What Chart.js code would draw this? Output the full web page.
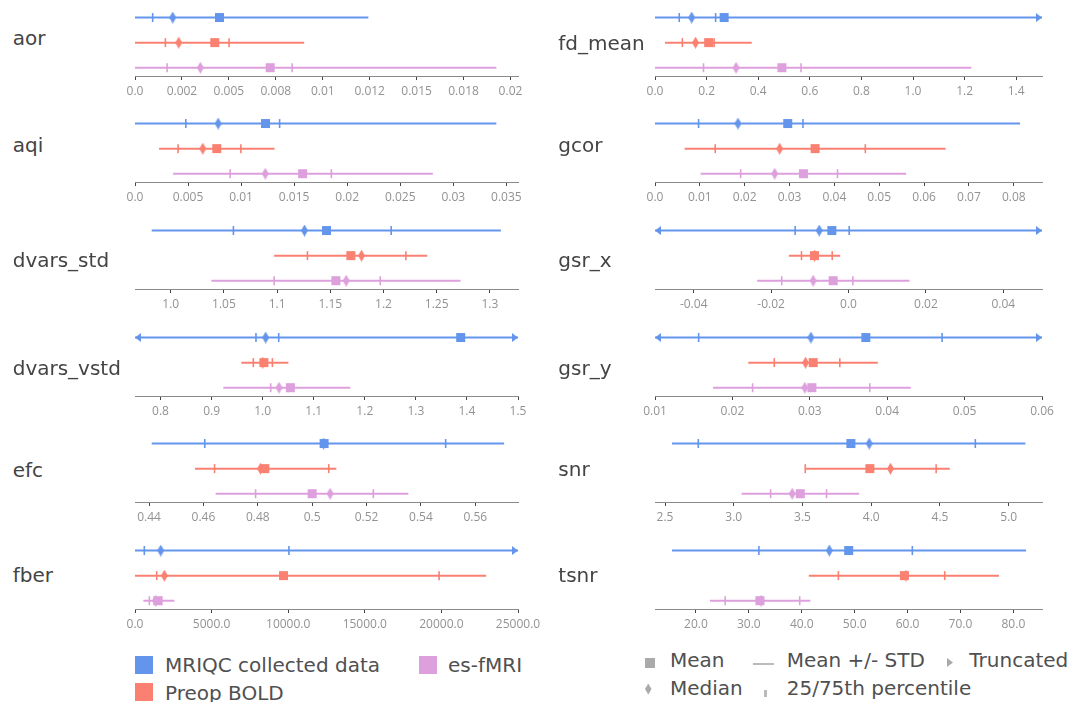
<!DOCTYPE html>
<html>
<head>
<meta charset="utf-8">
<script src="https://cdn.jsdelivr.net/npm/chart.js@4.4.1/dist/chart.umd.min.js"></script>
<style>
  html,body{margin:0;padding:0;background:#fff;}
  body{position:relative;width:1073px;height:702px;overflow:hidden;font-family:"DejaVu Sans",sans-serif;}
  .lab{position:absolute;font-size:20px;line-height:20px;color:#444;white-space:nowrap;}
  .leg{position:absolute;font-size:20px;line-height:20px;color:#505050;white-space:nowrap;}
  .sw{position:absolute;}
</style>
</head>
<body>
<script>
// ---------------- data ----------------
const metrics = ['aor','aqi','dvars_std','dvars_vstd','efc','fber','fd_mean','gcor','gsr_x','gsr_y','snr','tsnr'];
const groups = ['MRIQC collected data','Preop BOLD','es-fMRI'];
const groupColors = ['#6495ED','#FA8072','#DDA0DD'];

// values per metric (same order as metrics); -Infinity / Infinity = beyond the axis (truncated), null = off the axis
const mriqcLow    = [0, 0, 0.9821, -Infinity, 0.441, 0, 0, 0, -Infinity, -Infinity, 2.551, 15.47];
const mriqcHigh   = [0.01243, 0.03406, 1.3103, Infinity, 0.5706, Infinity, Infinity, 0.0814, Infinity, Infinity, 5.121, 82.4];
const mriqcP25    = [0.00094, 0.00479, 1.0589, 0.9869, 0.4605, 608, 0.094, 0.00972, -0.01378, 0.01564, 2.742, 31.9];
const mriqcP75    = [0.0046, 0.01363, 1.2072, 1.0314, 0.5491, 10046, 0.235, 0.0330, 0.00018, 0.04709, 4.757, 60.9];
const mriqcMedian = [0.00201, 0.00784, 1.1257, 1.0059, 0.5042, 1678, 0.142, 0.0185, -0.00757, 0.03014, 3.985, 45.21];
const mriqcMean   = [0.0045, 0.0123, 1.1464, 1.3878, 0.5044, null, 0.268, 0.0296, -0.0043, 0.03724, 3.852, 48.87];

const preopLow    = [0, 0.00227, 1.0972, 0.9582, 0.4569, 0, 0.0387, 0.00661, -0.0154, 0.02205, 3.517, 41.33];
const preopHigh   = [0.00901, 0.01315, 1.2411, 1.0504, 0.5089, 22920, 0.375, 0.0648, -0.00215, 0.03879, 4.571, 77.27];
const preopP25    = [0.00162, 0.00406, 1.1285, 0.9817, 0.4641, 1416, 0.106, 0.01343, -0.01215, 0.02541, 3.52, 46.92];
const preopP75    = [0.00501, 0.00998, 1.2210, 1.019, 0.5061, 19848, 0.229, 0.0469, -0.00421, 0.03388, 4.472, 67.02];
const preopMedian = [0.00233, 0.00639, 1.1793, 1.0, 0.481, 1916, 0.157, 0.0278, -0.0088, 0.02945, 4.140, 59.7];
const preopMean   = [0.00425, 0.00771, 1.1693, 1.0025, 0.4826, 9695, 0.208, 0.0357, -0.00879, 0.03044, 3.990, 59.4];

const esLow       = [0, 0.00359, 1.0382, 0.9229, 0.4645, 545, 0, 0.01017, -0.0236, 0.01749, 3.057, 22.64];
const esHigh      = [0.01925, 0.02807, 1.2724, 1.1716, 0.5354, 2571, 1.226, 0.056, 0.01576, 0.04305, 3.912, 41.63];
const esP25       = [0.00171, 0.00897, 1.0972, 1.0157, 0.4792, 937, 0.188, 0.0191, -0.01725, 0.02261, 3.268, 25.53];
const esP75       = [0.00837, 0.01851, 1.1969, 1.05, 0.5225, 1750, 0.566, 0.0407, 0.00113, 0.03775, 3.675, 39.61];
const esMedian    = [0.00348, 0.01228, 1.1649, 1.032, 0.5066, 1350, 0.314, 0.0267, -0.00913, 0.02936, 3.425, 32.3];
const esMean      = [0.0072, 0.0158, 1.1552, 1.0543, 0.5, 1481, 0.492, 0.0331, -0.00396, 0.03027, 3.484, 32.09];

const axisMin = [0, 0, 0.9664, 0.75, 0.43485, 0, 0, 0, -0.05, 0.01, 2.427, 12.26];
const axisMax = [0.0204, 0.0361, 1.3264, 1.5, 0.5757, 25000, 1.5, 0.0863, 0.05, 0.06, 5.242, 85.41];

const aorTicks = [0, 0.0025, 0.005, 0.0075, 0.01, 0.0125, 0.015, 0.0175, 0.02];
const aorLabels = ['0.0','0.002','0.005','0.008','0.01','0.012','0.015','0.018','0.02'];
const aqiTicks = [0, 0.005, 0.01, 0.015, 0.02, 0.025, 0.03, 0.035];
const aqiLabels = ['0.0','0.005','0.01','0.015','0.02','0.025','0.03','0.035'];
const dvarsStdTicks = [1.0, 1.05, 1.1, 1.15, 1.2, 1.25, 1.3];
const dvarsStdLabels = ['1.0','1.05','1.1','1.15','1.2','1.25','1.3'];
const dvarsVstdTicks = [0.8, 0.9, 1.0, 1.1, 1.2, 1.3, 1.4, 1.5];
const dvarsVstdLabels = ['0.8','0.9','1.0','1.1','1.2','1.3','1.4','1.5'];
const efcTicks = [0.44, 0.46, 0.48, 0.5, 0.52, 0.54, 0.56];
const efcLabels = ['0.44','0.46','0.48','0.5','0.52','0.54','0.56'];
const fberTicks = [0, 5000, 10000, 15000, 20000, 25000];
const fberLabels = ['0.0','5000.0','10000.0','15000.0','20000.0','25000.0'];
const fdMeanTicks = [0, 0.2, 0.4, 0.6, 0.8, 1.0, 1.2, 1.4];
const fdMeanLabels = ['0.0','0.2','0.4','0.6','0.8','1.0','1.2','1.4'];
const gcorTicks = [0, 0.01, 0.02, 0.03, 0.04, 0.05, 0.06, 0.07, 0.08];
const gcorLabels = ['0.0','0.01','0.02','0.03','0.04','0.05','0.06','0.07','0.08'];
const gsrXTicks = [-0.04, -0.02, 0, 0.02, 0.04];
const gsrXLabels = ['-0.04','-0.02','0.0','0.02','0.04'];
const gsrYTicks = [0.01, 0.02, 0.03, 0.04, 0.05, 0.06];
const gsrYLabels = ['0.01','0.02','0.03','0.04','0.05','0.06'];
const snrTicks = [2.5, 3.0, 3.5, 4.0, 4.5, 5.0];
const snrLabels = ['2.5','3.0','3.5','4.0','4.5','5.0'];
const tsnrTicks = [20, 30, 40, 50, 60, 70, 80];
const tsnrLabels = ['20.0','30.0','40.0','50.0','60.0','70.0','80.0'];

const legendMarkers = ['Mean','Mean +/- STD','Truncated','Median','25/75th percentile'];

// ---------------- layout ----------------
const tickSets = [aorTicks, aqiTicks, dvarsStdTicks, dvarsVstdTicks, efcTicks, fberTicks,
                  fdMeanTicks, gcorTicks, gsrXTicks, gsrYTicks, snrTicks, tsnrTicks];
const labelSets = [aorLabels, aqiLabels, dvarsStdLabels, dvarsVstdLabels, efcLabels, fberLabels,
                   fdMeanLabels, gcorLabels, gsrXLabels, gsrYLabels, snrLabels, tsnrLabels];
const stats = [
  {low: mriqcLow, high: mriqcHigh, p25: mriqcP25, p75: mriqcP75, median: mriqcMedian, mean: mriqcMean},
  {low: preopLow, high: preopHigh, p25: preopP25, p75: preopP75, median: preopMedian, mean: preopMean},
  {low: esLow, high: esHigh, p25: esP25, p75: esP75, median: esMedian, mean: esMean}
];

const colLeft = [135, 655];
const colWidth = [383, 387];
const rowAxisY = [76, 182, 289, 396, 502, 609];
const labelX = [12.7, 558.3];
const labelBaseline = [[45, 152, 267, 375, 477, 582], [50, 152, 267, 375, 476, 582]];
const PADX = 30, PADTOP = 6, AREAH = 72, XH = 26, PADBOT = 2;

function shape(kind, color) {
  const c = document.createElement('canvas');
  let w, h;
  if (kind === 'diamond') { w = 7; h = 12; } else { w = 12; h = 9; }
  c.width = w; c.height = h;
  const g = c.getContext('2d');
  g.fillStyle = color;
  g.beginPath();
  if (kind === 'diamond') { g.moveTo(3.5, 0); g.lineTo(7, 6); g.lineTo(3.5, 12); g.lineTo(0, 6); }
  else if (kind === 'right') { g.moveTo(0, 0); g.lineTo(6, 4.5); g.lineTo(0, 9); }
  else { g.moveTo(12, 0); g.lineTo(6, 4.5); g.lineTo(12, 9); }
  g.closePath();
  g.fill();
  return c;
}

metrics.forEach((m, i) => {
  const col = i < 6 ? 0 : 1, row = i % 6;
  const areaLeft = colLeft[col], areaW = colWidth[col], axisY = rowAxisY[row];
  const W = areaW + 2 * PADX, H = PADTOP + AREAH + XH + PADBOT;
  const cv = document.createElement('canvas');
  cv.width = W; cv.height = H;
  cv.style.cssText = `position:absolute;left:${areaLeft - PADX}px;top:${axisY - PADTOP - AREAH}px;width:${W}px;height:${H}px;`;
  document.body.appendChild(cv);

  const lab = document.createElement('div');
  lab.className = 'lab';
  lab.textContent = m;
  lab.style.left = labelX[col] + 'px';
  lab.style.top = (labelBaseline[col][row] - 16.9) + 'px';
  document.body.appendChild(lab);

  const lo = axisMin[i], hi = axisMax[i];
  const datasets = [];
  stats.forEach((s, g) => {
    const y = 2 - g;
    const color = groupColors[g];
    const a = Math.max(s.low[i], lo), b = Math.min(s.high[i], hi);
    datasets.push({ data: [{x: a, y}, {x: b, y}], showLine: true, borderColor: color, borderWidth: 2,
      pointRadius: 0, order: 4, clip: false });
    if (s.low[i] < lo) datasets.push({ data: [{x: lo, y}], pointStyle: shape('left', color), pointRadius: 5, order: 3, clip: false });
    if (s.high[i] > hi) datasets.push({ data: [{x: hi, y}], pointStyle: shape('right', color), pointRadius: 5, order: 3, clip: false });
    datasets.push({ data: [{x: s.p25[i], y}, {x: s.p75[i], y}], pointStyle: 'line', pointRotation: 90, pointRadius: 4.5,
      pointBorderWidth: 1.6, pointBorderColor: color, pointBackgroundColor: color, order: 2, clip: false });
    datasets.push({ data: [{x: s.median[i], y}], pointStyle: shape('diamond', color), pointRadius: 6, order: 1, clip: false });
    if (s.mean[i] !== null && s.mean[i] >= lo && s.mean[i] <= hi)
      datasets.push({ data: [{x: s.mean[i], y}], pointStyle: 'rect', pointRadius: 6.36, pointBorderWidth: 0,
        pointBackgroundColor: color, pointBorderColor: color, order: 0, clip: false });
  });

  const tv = tickSets[i], tl = labelSets[i];
  new Chart(cv, {
    type: 'scatter',
    data: { datasets },
    options: {
      responsive: false, animation: false, events: [],
      devicePixelRatio: 1,
      layout: { padding: { left: PADX, right: PADX, top: PADTOP, bottom: PADBOT } },
      plugins: { legend: { display: false }, tooltip: { enabled: false } },
      scales: {
        x: {
          type: 'linear', position: 'bottom', min: lo, max: hi,
          afterBuildTicks: sc => { sc.ticks = tv.map(v => ({ value: v })); },
          afterFit: sc => { sc.height = XH; },
          ticks: { autoSkip: false, maxRotation: 0, minRotation: 0, padding: 4, color: '#929292',
            font: { family: 'Open Sans', size: 12 }, callback: (v, idx) => tl[idx] },
          grid: { display: true, drawOnChartArea: false, drawTicks: true, tickLength: 4, tickColor: '#444', tickWidth: 1 },
          border: { display: true, color: '#8a8a8a', width: 1 }
        },
        y: { type: 'linear', min: -0.33, max: 2.5, display: false }
      }
    }
  });
});

// ---------------- legends (HTML) ----------------
function addDiv(cls, css, text) {
  const d = document.createElement('div');
  d.className = cls;
  d.style.cssText = css;
  if (text !== undefined) d.textContent = text;
  document.body.appendChild(d);
}
// groups
addDiv('sw', `left:135px;top:656px;width:18px;height:18px;background:${groupColors[0]};`);
addDiv('leg', 'left:165px;top:655.4px;', groups[0]);
addDiv('sw', `left:419px;top:656px;width:18px;height:18px;background:${groupColors[2]};`);
addDiv('leg', 'left:448px;top:655.4px;', groups[2]);
addDiv('sw', `left:135px;top:683px;width:18px;height:18px;background:${groupColors[1]};`);
addDiv('leg', 'left:165px;top:683.1px;', groups[1]);
// marker key
addDiv('sw', 'left:645px;top:658px;width:10px;height:10px;background:#aaa;');
addDiv('leg', 'left:670px;top:650.4px;', legendMarkers[0]);
addDiv('sw', 'left:753px;top:663px;width:21px;height:2px;background:#bbb;');
addDiv('leg', 'left:786.7px;top:650.4px;', legendMarkers[1]);
addDiv('sw', 'left:947px;top:658px;width:6px;height:9px;background:#aaa;clip-path:polygon(0 0,100% 50%,0 100%);');
addDiv('leg', 'left:969.3px;top:650.4px;', legendMarkers[2]);
addDiv('sw', 'left:645px;top:683.5px;width:6.5px;height:11px;background:#aaa;clip-path:polygon(50% 0,100% 50%,50% 100%,0 50%);');
addDiv('leg', 'left:670px;top:678.1px;', legendMarkers[3]);
addDiv('sw', 'left:763.5px;top:689.5px;width:3px;height:7px;background:#bbb;');
addDiv('leg', 'left:786.7px;top:678.1px;', legendMarkers[4]);
</script>
</body>
</html>
